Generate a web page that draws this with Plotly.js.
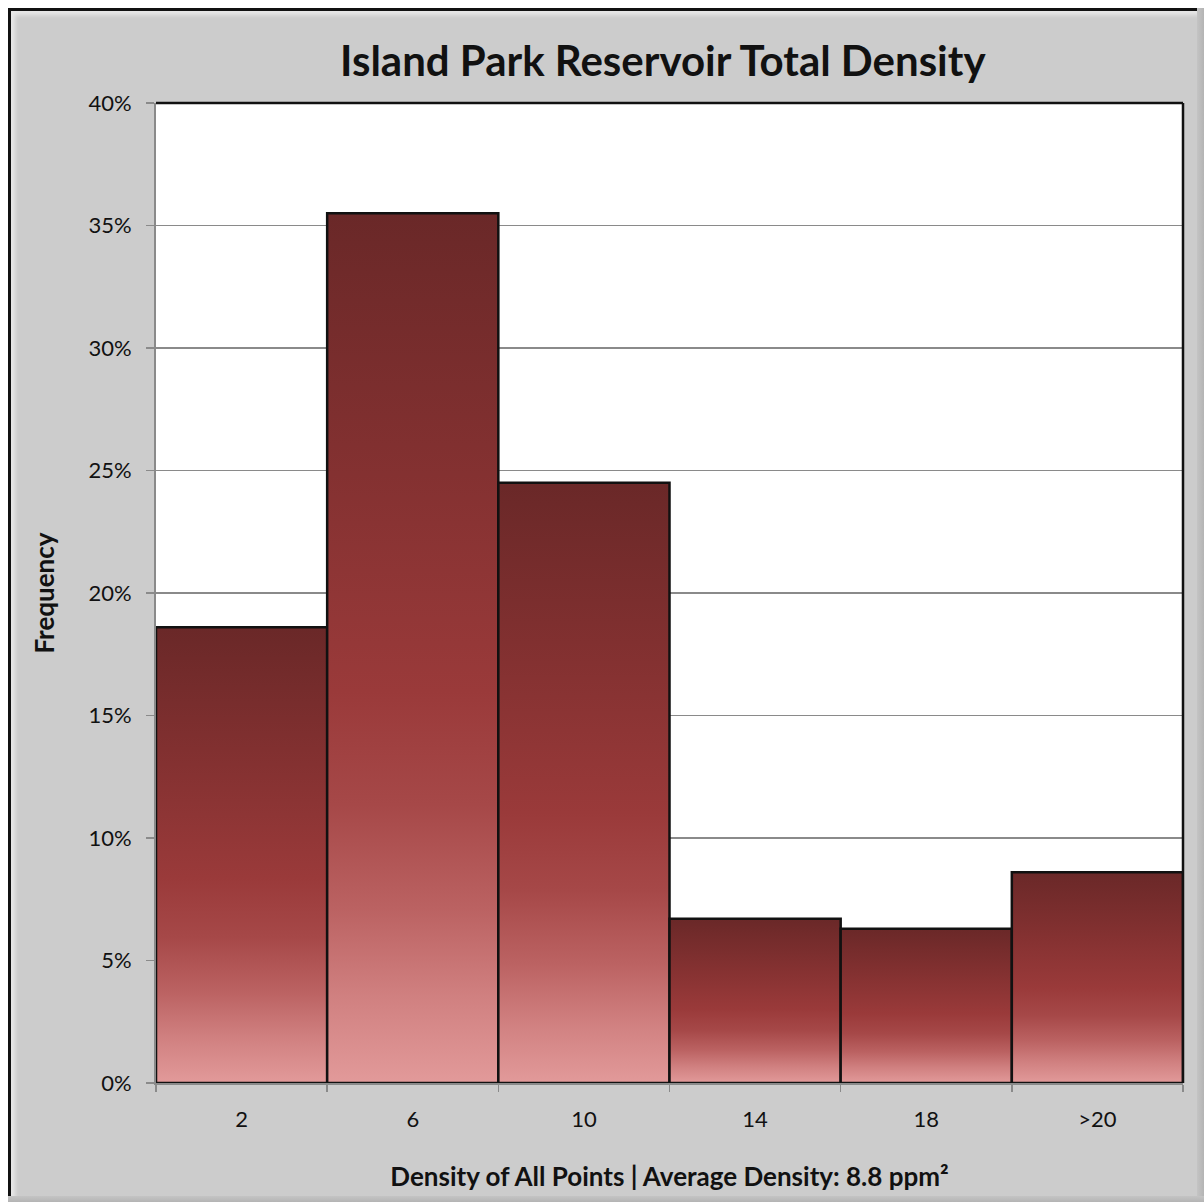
<!DOCTYPE html>
<html>
<head>
<meta charset="utf-8">
<script src="https://cdn.plot.ly/plotly-3.0.1.min.js"></script>
<style>
  html, body { margin:0; padding:0; width:1204px; height:1202px; overflow:hidden; background:#ffffff; }
  #frame { position:absolute; left:8px; top:8px; width:1204px; height:1202px; background:#cccccc;
           border-left:3px solid #111; border-top:3px solid #111;
           box-shadow: inset 4px 4px 4px rgba(255,255,255,0.55); }
  #edgeR { position:absolute; left:1197px; top:8px; width:7px; height:1202px; background:linear-gradient(to right,#c4c4c4,#b4b4b4); }
  #edgeB { position:absolute; left:8px; top:1196px; width:1204px; height:6px; background:linear-gradient(to bottom,#c4c4c4,#b4b4b4); }
  #chart { position:absolute; left:0; top:0; width:1204px; height:1202px; }
</style>
</head>
<body>
<div id="frame"></div>
<div id="edgeR"></div>
<div id="edgeB"></div>
<svg width="0" height="0" style="position:absolute">
  <defs>
    <linearGradient id="barGrad" x1="0" y1="0" x2="0" y2="1">
      <stop offset="0" stop-color="#6a2828"/>
      <stop offset="0.3" stop-color="#843131"/>
      <stop offset="0.55" stop-color="#9a3a3a"/>
      <stop offset="0.68" stop-color="#a64848"/>
      <stop offset="0.8" stop-color="#bb6262"/>
      <stop offset="0.9" stop-color="#d08080"/>
      <stop offset="1" stop-color="#e29a9a"/>
    </linearGradient>
  </defs>
</svg>
<div id="chart"></div>
<script>
// Data
const categories = ["2", "6", "10", "14", "18", ">20"];
const frequencyPct = [18.6, 35.5, 24.5, 6.7, 6.3, 8.6];
const yTickVals = [0, 5, 10, 15, 20, 25, 30, 35, 40];
const yTickText = yTickVals.map(function (v) { return v + "%"; });
const chartTitle = "Island Park Reservoir Total Density";
const xTitle = "Density of All Points | Average Density: 8.8 ppm²";
const yTitle = "Frequency";

const trace = {
  type: "bar",
  x: categories,
  y: frequencyPct,
  width: 1,
  marker: { color: "#8e3434", line: { color: "#111111", width: 2.5 } },
  hoverinfo: "x+y"
};

const layout = {
  width: 1204,
  height: 1202,
  paper_bgcolor: "rgba(0,0,0,0)",
  plot_bgcolor: "#ffffff",
  margin: { l: 156, r: 21, t: 103, b: 119 },
  bargap: 0,
  showlegend: false,
  font: { family: "Lato, 'DejaVu Sans', sans-serif", color: "#111111" },
  title: {
    text: "<b>" + chartTitle + "</b>",
    font: { family: "Lato", size: 42, color: "#111111" },
    xref: "container", x: 0.5505, xanchor: "center",
    yref: "container", y: 0.949, yanchor: "middle"
  },
  xaxis: {
    type: "category",
    tickson: "boundaries",
    ticks: "outside",
    ticklen: 7,
    tickwidth: 1.5,
    tickcolor: "#8a8a8a",
    showline: true,
    linecolor: "#8a8a8a",
    linewidth: 2,
    showgrid: false,
    tickfont: { family: "Lato", size: 22, color: "#111111" },
    ticklabelstandoff: 16,
    title: { text: "<b>" + xTitle + "</b>", font: { family: "Lato", size: 26, color: "#111111" }, standoff: 36 },
    fixedrange: true
  },
  yaxis: {
    range: [0, 40],
    tickmode: "array",
    tickvals: yTickVals,
    ticktext: yTickText,
    ticks: "outside",
    ticklen: 8,
    tickwidth: 1.5,
    tickcolor: "#8a8a8a",
    showline: true,
    linecolor: "#8a8a8a",
    linewidth: 2,
    showgrid: true,
    gridcolor: "#8a8a8a",
    gridwidth: 1.2,
    zeroline: false,
    tickfont: { family: "Lato", size: 22, color: "#111111" },
    ticklabelstandoff: 10,
    title: { text: "<b>" + yTitle + "</b>", font: { family: "Lato", size: 26, color: "#111111" }, standoff: 26 },
    fixedrange: true
  },
  shapes: [
    { type: "line", xref: "paper", yref: "paper", x0: 0, x1: 1, y0: 1, y1: 1, line: { color: "#111111", width: 2.5 }, layer: "above" },
    { type: "line", xref: "paper", yref: "paper", x0: 1, x1: 1, y0: 0, y1: 1, line: { color: "#111111", width: 2.5 }, layer: "above" }
  ]
};

Plotly.newPlot("chart", [trace], layout, { displayModeBar: false, staticPlot: true }).then(function () {
  document.querySelectorAll("#chart .barlayer .point path").forEach(function (p) {
    p.style.fill = "url(#barGrad)";
  });
});
</script>
</body>
</html>
